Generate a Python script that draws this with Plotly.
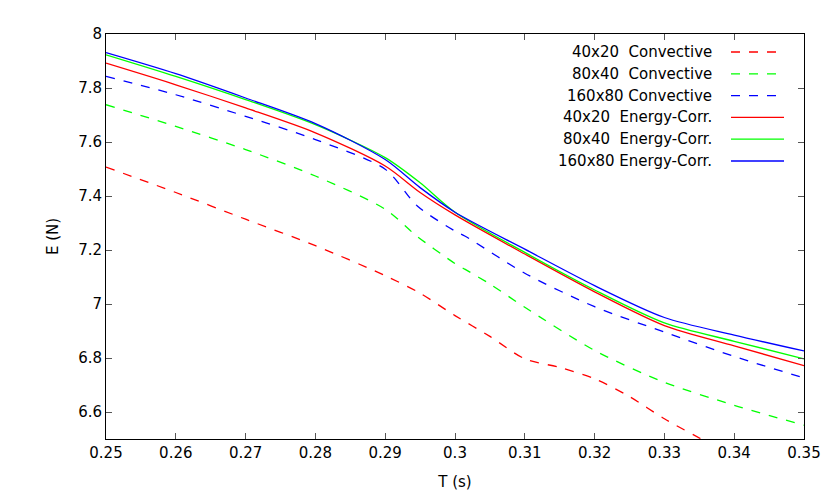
import plotly.graph_objects as go

t = [0.25, 0.26, 0.27, 0.28, 0.29, 0.295, 0.30, 0.305, 0.31, 0.315, 0.32, 0.325, 0.33, 0.336]
red_conv = [7.507, 7.413, 7.314, 7.216, 7.105, 7.04, 6.957, 6.88, 6.797, 6.765, 6.723, 6.657, 6.575, 6.49]
t2 = [0.25, 0.26, 0.27, 0.28, 0.29, 0.2945, 0.30, 0.3014, 0.305, 0.31, 0.32, 0.33, 0.34, 0.35]
green_conv = [7.738, 7.658, 7.572, 7.474, 7.351, 7.252, 7.15, 7.129, 7.074, 6.988, 6.828, 6.71, 6.625, 6.551]
t3 = [0.25, 0.26, 0.27, 0.28, 0.29, 0.2946, 0.30, 0.3014, 0.31, 0.32, 0.33, 0.34, 0.35]
blue_conv = [7.843, 7.775, 7.695, 7.609, 7.499, 7.363, 7.27, 7.252, 7.114, 6.99, 6.896, 6.806, 6.726]
t4 = [0.25, 0.26, 0.27, 0.28, 0.29, 0.295, 0.30, 0.31, 0.32, 0.33, 0.34, 0.35]
red_ec = [7.892, 7.812, 7.726, 7.634, 7.511, 7.413, 7.33, 7.185, 7.045, 6.92, 6.845, 6.772]
green_ec = [7.923, 7.843, 7.757, 7.664, 7.542, 7.449, 7.34, 7.191, 7.052, 6.93, 6.862, 6.797]
blue_ec = [7.931, 7.853, 7.763, 7.668, 7.535, 7.431, 7.34, 7.203, 7.068, 6.95, 6.885, 6.826]

x_ticks = [0.25, 0.26, 0.27, 0.28, 0.29, 0.30, 0.31, 0.32, 0.33, 0.34, 0.35]
x_labels = ["0.25", "0.26", "0.27", "0.28", "0.29", "0.3", "0.31", "0.32", "0.33", "0.34", "0.35"]
y_ticks = [6.6, 6.8, 7, 7.2, 7.4, 7.6, 7.8, 8]
y_labels = ["6.6", "6.8", "7", "7.2", "7.4", "7.6", "7.8", "8"]

labels = ["40x20  Convective", "80x40  Convective", "160x80 Convective",
          "40x20  Energy-Corr.", "80x40  Energy-Corr.", "160x80 Energy-Corr."]
series = [(t, red_conv, "#ff0000", "dash"), (t2, green_conv, "#00ff00", "dash"),
          (t3, blue_conv, "#0000ff", "dash"), (t4, red_ec, "#ff0000", "solid"),
          (t4, green_ec, "#00ff00", "solid"), (t4, blue_ec, "#0000ff", "solid")]

fig = go.Figure()
for (x, y, c, d), name in zip(series, labels):
    fig.add_trace(go.Scatter(x=x, y=y, mode="lines", name=name, line=dict(color=c, dash=d, width=1.3, shape="spline", smoothing=0.8)))

W, H = 830, 498
L, R, T, B = 98, 34, 26, 67
pw, ph = W - L - R, H - T - B
for i, ((x, y, c, d), name) in enumerate(zip(series, labels)):
    yp = 44 + i * 21.8
    yy = 1 - (yp - T) / ph
    fig.add_annotation(x=(706 - L) / pw, y=yy, xref="paper", yref="paper", text=name.replace("  ", "&nbsp;&nbsp;"),
                       showarrow=False, xanchor="right", yanchor="middle", font=dict(size=15, color="black"))
    fig.add_shape(type="line", xref="paper", yref="paper", x0=(723 - L) / pw, x1=(776 - L) / pw, y0=yy, y1=yy,
                  line=dict(color=c, dash="dash" if d == "dash" else "solid", width=1.3))

ax = dict(showline=True, mirror="ticks", linecolor="black", linewidth=1, ticks="inside", ticklen=6,
          tickcolor="#555", showgrid=False, zeroline=False, tickfont=dict(size=15, color="black"))
fig.update_xaxes(range=[0.25, 0.35], tickvals=x_ticks, ticktext=x_labels, tickangle=0,
                 title=dict(text="T (s)", font=dict(size=15)), **ax)
fig.update_yaxes(range=[6.5, 8.0], tickvals=y_ticks, ticktext=y_labels,
                 title=dict(text="E (N)", font=dict(size=15)), **ax)
fig.update_layout(width=W, height=H, margin=dict(l=L, r=R, t=T, b=B), showlegend=False,
                  plot_bgcolor="white", paper_bgcolor="white", font=dict(family="DejaVu Sans", size=15, color="black"))
fig.write_html("out.html")
